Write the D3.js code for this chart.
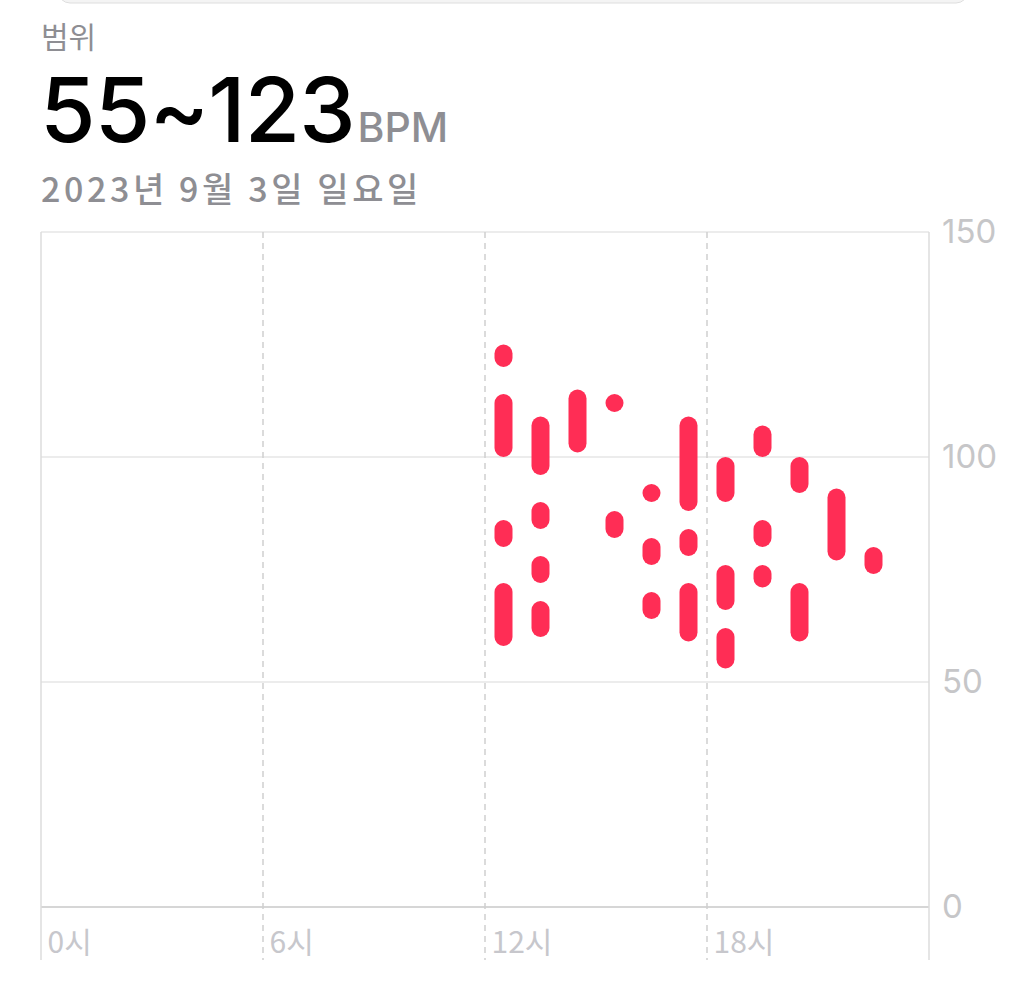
<!DOCTYPE html>
<html>
<head>
<meta charset="utf-8">
<script src="https://cdn.jsdelivr.net/npm/d3@7"></script>
<style>
  html, body { margin: 0; padding: 0; background: #fff; }
  svg { display: block; }
</style>
</head>
<body>
<div id="chart"></div>
<script>
// heart rate segments per hour (low~high BPM)
const segHour = [12, 12, 12, 12, 13, 13, 13, 13, 14, 15, 15, 16, 16, 16, 17, 17, 17, 18, 18, 18, 19, 19, 19, 20, 20, 21, 22];
const segLow  = [122, 102, 82, 60, 98, 86, 74, 62, 103, 112, 84, 92, 78, 66, 90, 80, 61, 92, 68, 55, 102, 82, 73, 94, 61, 79, 76];
const segHigh = [123, 112, 84, 70, 107, 88, 76, 66, 113, 112, 86, 92, 80, 68, 107, 82, 70, 98, 74, 60, 105, 84, 74, 98, 70, 91, 78];
const yTicks = [0, 50, 100, 150];
const xTicks = [0, 6, 12, 18];
const titleLabel = "범위";
const rangeText = "55~123";
const unitText = "BPM";
const dateText = "2023년 9월 3일 일요일";

const W = 1024, H = 996;
const plotL = 41, plotR = 929, plotT = 232, plotB = 907, gridEnd = 960;

const svg = d3.select("#chart").append("svg")
  .attr("width", W).attr("height", H);

// faint segmented control edge at top
svg.append("rect")
  .attr("x", 58).attr("y", -24).attr("width", 910).attr("height", 27)
  .attr("rx", 12).attr("fill", "#f4f4f4").attr("stroke", "#dedede");

// header texts
svg.append("text").attr("x", 41).attr("y", 48)
  .attr("font-family", "'Noto Sans CJK KR'").attr("font-size", 30)
  .attr("fill", "#8e8e93").text(titleLabel);

const big = svg.append("text").attr("x", 40).attr("y", 142)
  .attr("font-family", "Inter, 'Noto Sans'");
big.append("tspan").attr("font-size", 90).attr("font-weight", 500).attr("fill", "#000")
  .attr("letter-spacing", -1).text(rangeText);
big.append("tspan").attr("font-size", 41).attr("font-weight", 500).attr("fill", "#8e8e93")
  .attr("dx", 3).text(unitText);

svg.append("text").attr("x", 41).attr("y", 202)
  .attr("font-family", "'Noto Sans CJK KR'").attr("font-weight", 500)
  .attr("font-size", 34).attr("letter-spacing", 3.6)
  .attr("fill", "#8e8e93").text(dateText);

// scales
const x = d3.scaleLinear().domain([0, 24]).range([plotL, plotR]);
const y = d3.scaleLinear().domain([0, 150]).range([plotB, plotT]);

// horizontal gridlines
svg.append("g").selectAll("line")
  .data(yTicks)
  .join("line")
  .attr("x1", plotL).attr("x2", plotR)
  .attr("y1", d => y(d)).attr("y2", d => y(d))
  .attr("stroke", d => d === 0 ? "#d6d6d6" : "#e6e6e6")
  .attr("stroke-width", d => d === 0 ? 2 : 1.5);

// vertical dashed gridlines (6, 12, 18)
svg.append("g").selectAll("line")
  .data(xTicks.filter(d => d > 0))
  .join("line")
  .attr("x1", d => x(d)).attr("x2", d => x(d))
  .attr("y1", plotT).attr("y2", gridEnd)
  .attr("stroke", "#cfcfcf").attr("stroke-width", 1.5)
  .attr("stroke-dasharray", "6,5");

// frame sides
[plotL, plotR].forEach(px => {
  svg.append("line")
    .attr("x1", px).attr("x2", px).attr("y1", plotT).attr("y2", gridEnd)
    .attr("stroke", "#dcdcdc").attr("stroke-width", 1.5);
});

// y axis labels on the right
const yAxis = svg.append("g")
  .attr("transform", `translate(${plotR},0)`)
  .call(d3.axisRight(y).tickValues(yTicks).tickSize(0).tickPadding(13));
yAxis.select(".domain").remove();
yAxis.selectAll("text")
  .attr("font-family", "Inter, 'Noto Sans'").attr("font-size", 33)
  .attr("fill", "#c6c6c8");

// x axis labels
const xAxis = svg.append("g")
  .attr("transform", `translate(0,${plotB})`)
  .call(d3.axisBottom(x).tickValues(xTicks).tickSize(0).tickPadding(0)
    .tickFormat(d => d + "시"));
xAxis.select(".domain").remove();
xAxis.selectAll("text")
  .attr("text-anchor", "start").attr("dx", 6).attr("dy", 0).attr("y", 46)
  .attr("font-family", "'Noto Sans CJK KR'").attr("font-size", 30)
  .attr("fill", "#c7c7cc");

// bars
const bw = 18;
svg.append("g").selectAll("rect")
  .data(segHour.map((h, i) => ({ h, lo: segLow[i], hi: segHigh[i] })))
  .join("rect")
  .attr("x", d => x(d.h + 0.5) - bw / 2)
  .attr("y", d => y(d.hi) - bw / 2)
  .attr("width", bw)
  .attr("height", d => y(d.lo) - y(d.hi) + bw)
  .attr("rx", bw / 2)
  .attr("fill", "#ff2d55");
</script>
</body>
</html>
